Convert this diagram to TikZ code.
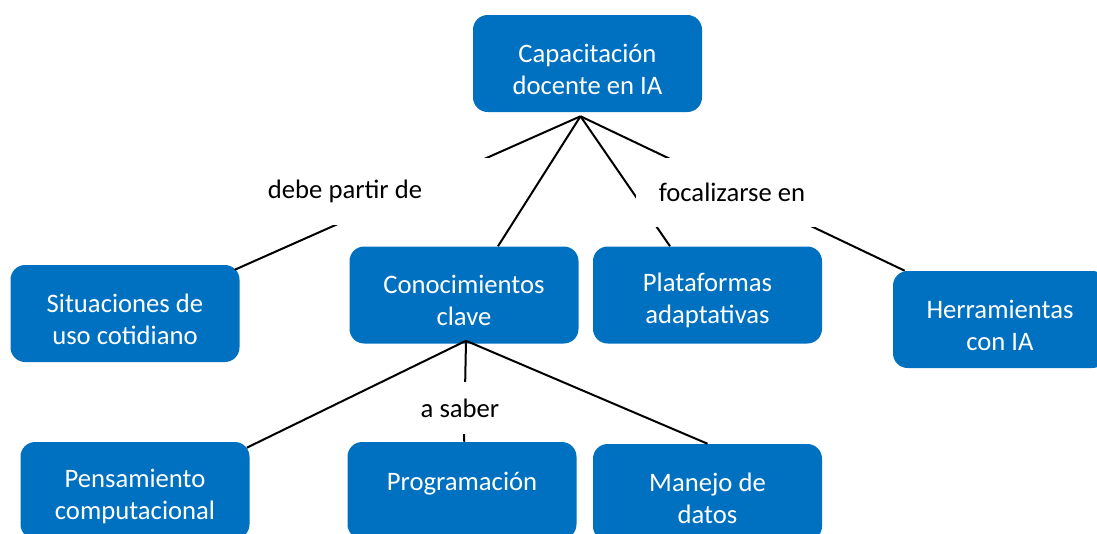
\documentclass[tikz,border=0pt]{standalone}
\usepackage{fontspec}
\setmainfont{Carlito}
\usetikzlibrary{calc}
\definecolor{wordblue}{HTML}{0070C0}
\newcommand{\lift}{\rule{0pt}{22pt}}

\begin{document}
\begin{tikzpicture}[
    x=0.75pt, y=-0.75pt,
    concept box/.style={fill=wordblue, rounded corners=11pt, text=white, align=center,
      minimum width=171.75pt, minimum height=72.75pt, inner sep=0pt,
      font=\fontsize{20}{24}\selectfont},
    link label/.style={fill=white, inner sep=0pt, font=\fontsize{20}{24}\selectfont},
    link/.style={line width=1.5pt}
  ]

  \useasboundingbox (0,0) rectangle (1097,533);

  % boxes
  \node [concept box] (capacitacion) at (587.5,63.5) {\lift Capacitación\\docente en IA}; % root
  \node [concept box] (situaciones) at (125,313.5) {\lift Situaciones de\\uso cotidiano};
  \node [concept box] (conocimientos) at (464,295) {\lift Conocimientos\\clave};
  \node [concept box] (plataformas) at (707.5,295) {\lift Plataformas\\adaptativas};
  \node [concept box, minimum width=160.5pt] (herramientas) at (1000,319.5) {\lift Herramientas\\con IA};
  \node [concept box] (pensamiento) at (135,490.5) {\lift Pensamiento\\computacional};
  \node [concept box] (programacion) at (462,490.5) {\lift Programación\\[-9pt] \strut};
  \node [concept box] (manejo) at (707.5,492.5) {\lift Manejo de\\datos};

  \coordinate (capfoot) at ($(capacitacion.south)+(-7,4)$);
  \coordinate (confoot) at ($(conocimientos.south)+(2,-3)$);

  % links
  \draw [link] (capfoot) -- ($(situaciones.north east)+(-5,5)$);
  \draw [link] (capfoot) -- ($(conocimientos.north)+(34,0)$);
  \draw [link] (capfoot) -- ($(plataformas.north)+(-37.5,0)$);
  \draw [link] (capfoot) -- ($(herramientas.north west)+(12,0)$);
  \draw [link] (confoot) -- ($(pensamiento.north east)+(-3,6)$);
  \draw [link] (confoot) -- ($(programacion.north)+(2,0)$);
  \draw [link] (confoot) -- (manejo.north);

  % labels
  \node [link label, minimum width=225pt, minimum height=50pt] (partir) at (345,191.5) {debe partir de};
  \node [link label, minimum width=144pt, minimum height=52pt] (focalizarse) at (732,192.5) {focalizarse en};
  \node [link label, minimum width=75pt, minimum height=39pt] (saber) at (460,408) {a saber};

\end{tikzpicture}
\end{document}
